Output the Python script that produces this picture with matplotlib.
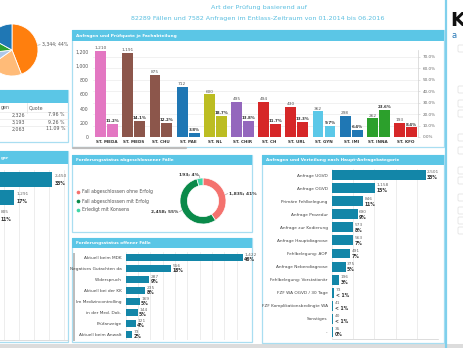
import numpy as np
import matplotlib
matplotlib.use('Agg')
import matplotlib.pyplot as plt
from matplotlib.patches import Rectangle, FancyBboxPatch

W, H = 463, 348
plt.rcParams['font.family'] = 'DejaVu Sans'

# ---- data ----
title1 = 'Art der Prüfung basierend auf'
title2 = '82289 Fällen und 7582 Anfragen im Entlass-Zeitraum von 01.2014 bis 06.2016'

pie_vals = [3344, 1600, 600, 750, 1288]
pie_cols = ['#ff7f0e', '#ffbb78', '#aec7e8', '#2ca02c', '#1f77b4']

table_head = ['gen', 'Quote']
table_n = ['2,326', '3,193', '2,063']
table_q = ['7.96 %', '9.26 %', '11.09 %']

left_vals = [2450, 1291, 805]
left_pct = ['33%', '17%', '11%']

dept = ['ST. MEDA', 'ST. MEDS', 'ST. CHU', 'ST. PAE', 'ST. NL', 'ST. CHIR',
        'ST. CH', 'ST. URL', 'ST. GYN', 'ST. IMI', 'ST. INNA', 'ST. KFO']
dept_n = [1210, 1191, 875, 712, 600, 495, 494, 430, 362, 298, 262, 193]
dept_q = [11.2, 14.1, 12.2, 3.8, 18.7, 13.8, 11.7, 13.3, 9.7, 6.4, 23.6, 8.4]
dept_cols = ['#e377c2', '#8c564b', '#8c564b', '#1f77b4', '#bcbd22', '#9467bd',
             '#d62728', '#d62728', '#5bc8e8', '#1f77b4', '#2ca02c', '#d62728']

closed_labels = ['Fall abgeschlossen ohne Erfolg', 'Fall abgeschlossen mit Erfolg', 'Erledigt mit Konsens']
closed_vals = [1835, 2458, 193]
closed_cols = ['#f4726e', '#0a8a4a', '#3fd6a6']

open_labels = ['Aktuell beim MDK', 'Negatives Gutachten da', 'Widerspruch', 'Aktuell bei der KK',
               'Im Medizincontrolling', 'in der Med. Dok.', 'Prüfanzeige', 'Aktuell beim Anwalt']
open_vals = [1422, 556, 287, 235, 169, 144, 121, 73]
open_pct = ['46%', '18%', '9%', '8%', '5%', '5%', '4%', '2%']

cat_labels = ['Anfrage UGVD', 'Anfrage OGVD', 'Primäre Fehlbelegung', 'Anfrage Prozedur',
              'Anfrage zur Kodierung', 'Anfrage Hauptdiagnose', 'Fehlbelegung: AOP',
              'Anfrage Nebendiagnose', 'Fehlbelegung: Vorstationär', 'FZF WA OGVD / 30 Tage',
              'FZF Komplikationsbedingte WA', 'Sonstiges', '-']
cat_vals = [2501, 1158, 846, 690, 573, 563, 491, 375, 196, 73, 41, 40, 35]
cat_pct = ['33%', '15%', '11%', '9%', '8%', '7%', '7%', '5%', '3%', '< 1%', '< 1%', '< 1%', '0%']

HEAD = '#5bc6e6'
BORDER = '#a9def1'
TEAL = '#1386a8'
GRID = '#e6e6e6'

fig = plt.figure(figsize=(W / 100, H / 100), dpi=100)
bg = fig.add_axes([0, 0, 1, 1])
bg.set_xlim(0, W); bg.set_ylim(H, 0); bg.axis('off')


def px_ax(x, y, w, h):
    a = fig.add_axes([x / W, 1 - (y + h) / H, w / W, h / H])
    a.set_facecolor('none')
    return a


def panel(x0, y0, x1, y1, title, hh=10):
    bg.add_patch(Rectangle((x0, y0), x1 - x0, y1 - y0, fill=False, ec=BORDER, lw=0.9))
    bg.add_patch(Rectangle((x0, y0), x1 - x0, hh, fc=HEAD, ec='none'))
    bg.text(x0 + 4, y0 + hh / 2, title, color='white', fontsize=3.1, fontweight='bold', va='center')


# ---- frame ----
bg.text(259, 7, title1, ha='center', va='center', fontsize=4.6, color='#5bbfe0')
bg.text(258, 18.5, title2, ha='center', va='center', fontsize=4.6, color='#5bbfe0')
bg.plot([446, 446], [0, 348], color='#7fd0ec', lw=1.6)
bg.add_patch(Rectangle((0, 343.5), W, 5, fc='#dcdcdc', ec='none'))
bg.text(450, 21, 'K', fontsize=14, fontweight='bold', color='#111', va='center', ha='left')
bg.text(451.5, 35, 'a', fontsize=6, color='#2a7ab8', va='center', ha='left')
for yy in [45, 86, 100, 110, 134, 147, 167, 177, 194, 207, 217, 227]:
    bg.add_patch(FancyBboxPatch((458, yy), 8, 7, boxstyle='round,pad=0,rounding_size=1.2',
                                fc='white', ec='#e3e3e3', lw=0.6))

panel(72, 30, 444, 146.5, 'Anfragen und Prüfquote je Fachabteilung', hh=11)
bg.plot([73, 186], [148, 148], color='#bdbdbd', lw=1.6, solid_capstyle='round')
panel(-2, 90, 68, 142, '', hh=13)
panel(-2, 151, 68, 342, '', hh=13)
bg.text(0.5, 157.5, 'ger', fontsize=3.1, fontweight='bold', color='white', va='center', ha='left')
panel(72, 155, 252, 232, 'Forderungsstatus abgeschlossener Fälle', hh=10)
panel(72, 238, 252, 342, 'Forderungsstatus offener Fälle', hh=10)
panel(262, 155, 444, 343, 'Anfragen und Verteilung nach Haupt-Anfragekategorie', hh=10)

# ---- pie (top left) ----
pax = px_ax(-40, 24, 104, 52)
pw, _ = pax.pie(pie_vals, colors=pie_cols, startangle=90, counterclock=False,
                wedgeprops=dict(edgecolor='white', linewidth=0.6))
pax.set_aspect('equal'); pax.set_xlim(-2, 2); pax.set_ylim(-1, 1)
w0 = pw[0]
ang = np.deg2rad((w0.theta1 + w0.theta2) / 2)
pax.plot([1.0 * np.cos(ang), 1.1 * np.cos(ang)], [1.0 * np.sin(ang), 1.1 * np.sin(ang)], color='#999', lw=0.4)
pax.text(1.16 * np.cos(ang), 1.1 * np.sin(ang),
         f'{pie_vals[0]:,}; {round(pie_vals[0] / sum(pie_vals) * 100)}%',
         fontsize=3.3, color='#555', va='center', ha='left')

# ---- table ----
bg.text(0.5, 108, table_head[0], fontsize=3.4, color='#555', va='center')
bg.text(29, 108, table_head[1], fontsize=3.4, color='#555', va='center')
bg.plot([27, 27], [103, 113], color='#e0e0e0', lw=0.5)
for i, (n, q) in enumerate(zip(table_n, table_q)):
    yy = 115 + 7 * i
    bg.plot([-2, 68], [yy - 3.5, yy - 3.5], color='#e4e4e4', lw=0.4)
    bg.text(25, yy, n, fontsize=3.4, color='#555', va='center', ha='right')
    bg.text(65, yy, q, fontsize=3.4, color='#555', va='center', ha='right')

# ---- left bottom bars ----
lax = px_ax(-28.4, 170, 96, 170)
lax.barh(range(len(left_vals)), left_vals, height=0.83, color=TEAL)
lax.set_xlim(0, 2926); lax.set_ylim(8.92, -0.528)
lax.set_xticks(np.arange(0, 2926, 457) + 80); lax.set_yticks([])
lax.xaxis.grid(True, color=GRID, lw=0.5); lax.set_axisbelow(True)
lax.tick_params(length=0, labelbottom=False)
for s in ['top', 'right', 'left']:
    lax.spines[s].set_visible(False)
lax.spines['bottom'].set_color('#cfcfcf'); lax.spines['bottom'].set_linewidth(0.5)
for i, (v, p) in enumerate(zip(left_vals, left_pct)):
    lax.text(v + 70, i - 0.18, f'{v:,}', fontsize=3.1, color='#666', va='center')
    lax.text(v + 70, i + 0.22, p, fontsize=3.3, fontweight='bold', color='#333', va='center')

# ---- department bars ----
ax = px_ax(93, 50, 325, 87)
x = np.arange(len(dept))
n_max, q_max = 1228, 76.1
ax.bar(x - 0.22, dept_n, width=0.4, color=dept_cols, zorder=2)
ax2 = ax.twinx()
ax2.bar(x + 0.22, dept_q, width=0.4, color=dept_cols, zorder=2)
ax.set_xlim(-0.5, 11.46)
ax.set_ylim(0, n_max); ax2.set_ylim(0, q_max)
ax.set_yticks(range(0, 1201, 200), [f'{v:,}' for v in range(0, 1201, 200)])
ax2.set_yticks(range(0, 71, 10), [f'{v:.1f}%' for v in range(0, 71, 10)])
for t in range(0, 71, 10):
    ax.axhline(t / q_max * n_max, color='#ececec', lw=0.5, zorder=0)
ax.set_xticks(x, dept)
ax.tick_params(axis='x', length=0, pad=2, labelsize=3.0, labelcolor='#333')
for lab in ax.get_xticklabels():
    lab.set_fontweight('bold')
ax.tick_params(axis='y', length=0, pad=3, labelsize=3.3, labelcolor='#555')
ax2.tick_params(axis='y', length=1.5, width=0.4, color='#ccc', pad=2, labelsize=3.0, labelcolor='#666')
for a in (ax, ax2):
    for s in ['top', 'left', 'bottom']:
        a.spines[s].set_visible(False)
ax.spines['right'].set_visible(False)
ax2.spines['right'].set_color('#d0d0d0'); ax2.spines['right'].set_linewidth(0.5)
for xi, n, q in zip(x, dept_n, dept_q):
    ax.text(xi - 0.22, n + 12, f'{n:,}', ha='center', va='bottom', fontsize=3.1, color='#555')
    ax2.text(xi + 0.22, q + 0.7, f'{q:.1f}%', ha='center', va='bottom', fontsize=2.9,
             fontweight='bold', color='#333')

# ---- donut ----
dax = px_ax(151, 170, 104, 62)
dw, _ = dax.pie(closed_vals, colors=closed_cols, startangle=90, counterclock=False,
                wedgeprops=dict(width=0.32, edgecolor='white', linewidth=0.5))
dax.set_aspect('equal'); dax.set_xlim(-2.26, 2.26); dax.set_ylim(-1.348, 1.348)
tot = sum(closed_vals)
for wdg, v in zip(dw, closed_vals):
    a = np.deg2rad((wdg.theta1 + wdg.theta2) / 2)
    c, s = np.cos(a), np.sin(a)
    dax.plot([1.02 * c, 1.12 * c], [1.02 * s, 1.12 * s], color='#888', lw=0.4)
    dax.text(1.17 * c + (0.02 if c >= 0 else -0.02), 1.17 * s, f'{v:,}; {round(v / tot * 100)}%',
             ha='left' if c >= 0 else 'right', va='center', fontsize=3.2, fontweight='bold', color='#333')
for i, (lab, col) in enumerate(zip(closed_labels, closed_cols)):
    bg.scatter(78, 192 + 9 * i, s=7, color=col, lw=0)
    bg.text(82, 192 + 9 * i, lab, fontsize=3.3, color='#555', va='center')

# ---- open cases ----
bg.add_patch(Rectangle((72.5, 253), 2.5, 88, fc='#bdbdbd', ec='none'))
oax = px_ax(125.7, 252, 122, 88)
oax.barh(range(len(open_vals)), open_vals, height=0.72, color=TEAL)
oax.set_xlim(0, 1482); oax.set_ylim(len(open_vals) - 0.5, -0.5)
oax.set_xticks(np.arange(0, 1482, 150))
oax.xaxis.grid(True, color=GRID, lw=0.5); oax.set_axisbelow(True)
oax.set_yticks(range(len(open_vals)), open_labels)
oax.tick_params(axis='y', length=0, pad=3, labelsize=3.1, labelcolor='#444')
oax.tick_params(axis='x', length=0, labelbottom=False)
for s in oax.spines.values():
    s.set_visible(False)
for i, (v, p) in enumerate(zip(open_vals, open_pct)):
    oax.text(v + 18, i - 0.2, f'{v:,}', fontsize=3.1, color='#666', va='center')
    oax.text(v + 18, i + 0.22, p, fontsize=3.3, fontweight='bold', color='#333', va='center')

# ---- categories ----
rax = px_ax(331.7, 168.5, 106.6, 170)
rax.barh(range(len(cat_vals)), cat_vals, height=0.76, color=TEAL)
rax.set_xlim(0, 2836); rax.set_ylim(len(cat_vals) - 0.5, -0.5)
rax.set_xticks(np.linspace(0, 2836, 6)[:-1])
rax.xaxis.grid(True, color=GRID, lw=0.5); rax.set_axisbelow(True)
rax.set_yticks(range(len(cat_vals)), cat_labels)
rax.tick_params(axis='y', length=0, pad=3, labelsize=3.1, labelcolor='#444')
rax.tick_params(axis='x', length=0, labelbottom=False)
for s in ['top', 'right', 'left']:
    rax.spines[s].set_visible(False)
rax.spines['bottom'].set_color('#cfcfcf'); rax.spines['bottom'].set_linewidth(0.5)
for i, (v, p) in enumerate(zip(cat_vals, cat_pct)):
    rax.text(v + 35, i - 0.2, f'{v:,}', fontsize=3.1, color='#666', va='center')
    rax.text(v + 35, i + 0.22, p, fontsize=3.3, fontweight='bold', color='#333', va='center')

fig.savefig('out.png', dpi=100)
